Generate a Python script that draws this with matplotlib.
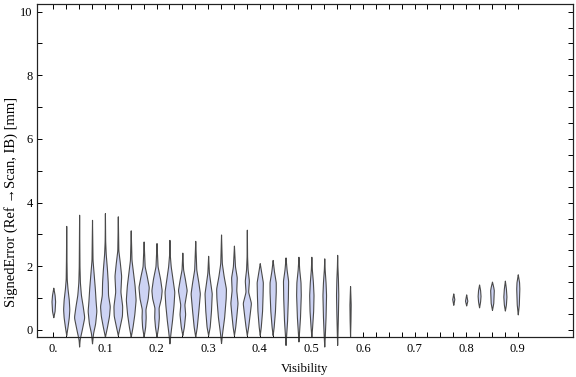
import numpy as np
import matplotlib
matplotlib.use("Agg")
import matplotlib.pyplot as plt

plt.rcParams['font.family'] = ['Liberation Serif', 'DejaVu Serif']

# Visibility bins (violin centers)
positions = [0.0, 0.025, 0.05, 0.075, 0.1, 0.125, 0.15, 0.175, 0.2, 0.225,
             0.25, 0.275, 0.3, 0.325, 0.35, 0.375, 0.4, 0.425, 0.45, 0.475,
             0.5, 0.525, 0.55, 0.575,
             0.775, 0.8, 0.825, 0.85, 0.875, 0.9]

# min / max of each distribution
lows = [0.40, -0.16, -0.52, -0.42, -0.21, -0.16, -0.21, -0.21, -0.21, -0.42,
        -0.16, -0.21, -0.16, -0.41, -0.16, -0.16, -0.16, -0.16, -0.47, -0.36,
        -0.21, -0.52, -0.47, -0.20,
        0.79, 0.77, 0.71, 0.63, 0.61, 0.49]
highs = [1.33, 3.27, 3.62, 3.46, 3.67, 3.57, 3.13, 2.78, 2.73, 2.83,
         2.43, 2.80, 2.33, 3.00, 2.65, 3.15, 2.10, 2.20, 2.28, 2.30,
         2.30, 2.25, 2.36, 1.38,
         1.15, 1.12, 1.43, 1.52, 1.55, 1.75]

# relative density knots (value, density) for each violin
densities = [
    [(0.6, 0.25), (0.9, 0.35), (1.1, 0.25)],
    [(0.1, 0.25), (0.4, 0.5), (0.65, 0.6), (0.95, 0.5), (1.3, 0.25), (1.6, 0.1), (2.2, 0.05)],
    [(-0.3, 0.1), (0.0, 0.5), (0.4, 1.0), (0.75, 0.7), (1.1, 0.35), (1.5, 0.15), (2.0, 0.07)],
    [(-0.1, 0.2), (0.2, 0.6), (0.6, 0.85), (0.9, 0.7), (1.3, 0.55), (1.7, 0.35), (2.2, 0.1)],
    [(0.1, 0.4), (0.45, 0.8), (0.75, 0.95), (1.1, 0.6), (1.5, 0.55), (1.9, 0.4), (2.4, 0.15), (2.8, 0.05)],
    [(0.1, 0.35), (0.45, 0.8), (0.75, 0.85), (1.2, 0.5), (1.7, 0.65), (2.1, 0.4), (2.5, 0.1)],
    [(0.1, 0.35), (0.5, 0.7), (0.95, 0.95), (1.4, 0.75), (1.8, 0.45), (2.2, 0.15)],
    [(0.1, 0.3), (0.4, 0.4), (0.65, 0.35), (1.0, 0.8), (1.35, 1.0), (1.7, 0.6), (2.0, 0.2)],
    [(0.1, 0.3), (0.4, 0.45), (0.7, 0.4), (1.0, 0.85), (1.25, 1.0), (1.6, 0.7), (2.0, 0.2)],
    [(-0.1, 0.2), (0.3, 0.5), (0.8, 0.8), (1.2, 0.95), (1.6, 0.6), (2.0, 0.25), (2.4, 0.05)],
    [(0.1, 0.3), (0.5, 0.55), (0.8, 0.4), (1.25, 0.85), (1.6, 0.5), (1.9, 0.15)],
    [(0.1, 0.3), (0.6, 0.6), (1.15, 0.9), (1.5, 0.6), (1.9, 0.2)],
    [(0.1, 0.3), (0.6, 0.55), (1.15, 0.7), (1.5, 0.4), (1.8, 0.15)],
    [(-0.1, 0.2), (0.4, 0.6), (1.0, 0.9), (1.3, 0.95), (1.7, 0.5), (2.1, 0.15)],
    [(0.1, 0.25), (0.5, 0.5), (0.85, 0.7), (1.25, 0.45), (1.65, 0.55), (2.0, 0.2)],
    [(0.1, 0.25), (0.5, 0.55), (0.85, 0.8), (1.2, 0.25), (1.55, 0.4), (1.9, 0.15), (2.3, 0.05)],
    [(0.1, 0.2), (0.6, 0.45), (1.1, 0.55), (1.5, 0.6), (1.8, 0.3)],
    [(0.1, 0.2), (0.6, 0.45), (1.2, 0.6), (1.5, 0.6), (1.85, 0.25)],
    [(-0.2, 0.1), (0.3, 0.3), (1.0, 0.45), (1.55, 0.5), (1.9, 0.2)],
    [(-0.1, 0.1), (0.4, 0.3), (1.1, 0.45), (1.5, 0.4), (1.9, 0.15)],
    [(0.1, 0.15), (0.6, 0.35), (1.1, 0.42), (1.5, 0.3), (1.9, 0.1)],
    [(-0.2, 0.1), (0.4, 0.25), (1.1, 0.35), (1.5, 0.25), (1.9, 0.08)],
    [(-0.2, 0.05), (0.5, 0.15), (1.1, 0.22), (1.6, 0.15), (2.0, 0.05)],
    [(0.3, 0.08), (0.8, 0.12), (1.1, 0.06)],
    [(0.97, 0.2)],
    [(0.92, 0.22)],
    [(0.9, 0.2), (1.07, 0.28), (1.25, 0.2)],
    [(0.85, 0.25), (1.25, 0.35), (1.35, 0.25)],
    [(0.8, 0.2), (1.05, 0.3), (1.3, 0.2)],
    [(0.8, 0.2), (1.3, 0.3), (1.5, 0.25)],
]

xtick_vals = [0.0, 0.1, 0.2, 0.3, 0.4, 0.5, 0.6, 0.7, 0.8, 0.9]
xtick_labels = ["0.", "0.1", "0.2", "0.3", "0.4", "0.5", "0.6", "0.7", "0.8", "0.9"]
ytick_vals = [0, 2, 4, 6, 8, 10]

MAX_HALF_WIDTH = 0.0100  # x-data units for density 1.0
FILL = '#cdd3f4'
EDGE = '#4a4a4a'

fig = plt.figure(figsize=(5.76, 3.77), dpi=100)
ax = fig.add_axes([37 / 576, 40 / 377, 536 / 576, 333 / 377])

for pos, lo, hi, dens in zip(positions, lows, highs, densities):
    kx = [lo] + [d[0] for d in dens] + [hi]
    ky = [0.0] + [d[1] for d in dens] + [0.0]
    y = np.linspace(lo, hi, 400)
    w = np.interp(y, kx, ky)
    # light smoothing
    k = np.exp(-0.5 * (np.linspace(-2.5, 2.5, 21)) ** 2)
    k /= k.sum()
    wp = np.pad(w, 10, mode='constant')
    w = np.convolve(wp, k, mode='same')[10:-10]
    w[0] = w[-1] = 0
    hw = w * MAX_HALF_WIDTH
    ax.fill_betweenx(y, pos - hw, pos + hw, facecolor=FILL, edgecolor=EDGE,
                     linewidth=0.8, clip_on=False, zorder=3)

ax.set_xlim(-0.0316, 1.007)
ax.set_ylim(-0.22, 10.24)

ax.set_xticks(xtick_vals)
ax.set_xticklabels(xtick_labels)
ax.set_xticks(np.arange(0, 0.9001, 0.025), minor=True)
ax.set_yticks(ytick_vals)
ax.set_yticks(np.arange(1, 10, 2), minor=True)
ax.tick_params(axis='x', which='both', direction='in', top=True, bottom=True,
               length=3.5, width=0.7, labelsize=9, pad=4)
ax.tick_params(axis='y', which='both', direction='in', left=True, right=False,
               length=3.5, width=0.7, labelsize=9, pad=3)

twin = ax.twinx()
twin.set_ylim(ax.get_ylim())
twin.set_yticks(np.arange(0, 10.01, 0.5))
twin.tick_params(axis='y', direction='in', right=True, labelright=False,
                 length=3.5, width=0.7)

for a in (ax, twin):
    for s in a.spines.values():
        s.set_linewidth(0.8)
        s.set_color('#222222')

ax.set_xlabel("Visibility", fontsize=9.3, labelpad=6)
ax.set_ylabel("SignedError (Ref \u2192Scan, IB) [mm]", fontsize=10.5)
ax.yaxis.set_label_coords(-0.035, 0.405)

fig.savefig("out.png", dpi=100)
